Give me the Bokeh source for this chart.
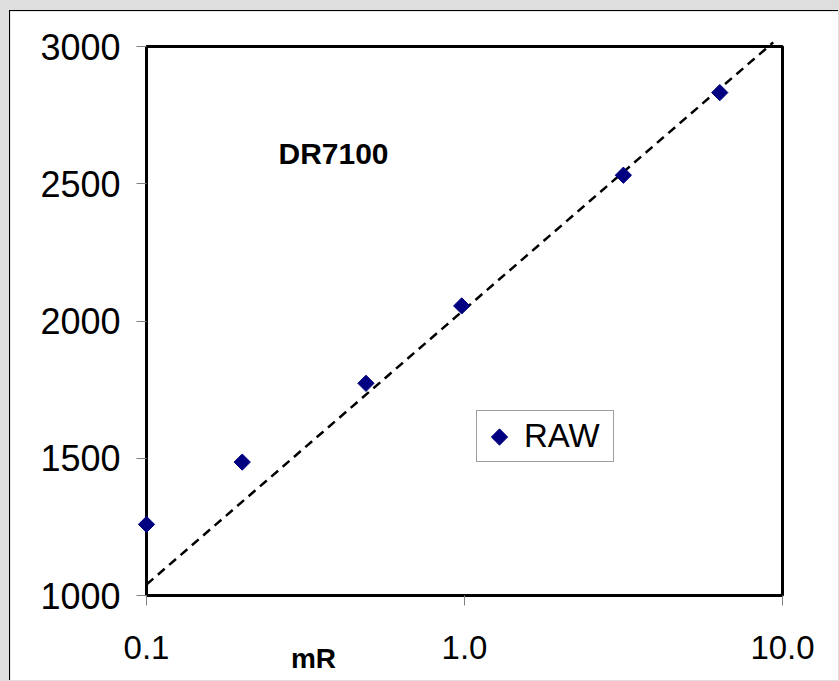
from bokeh.plotting import figure
from bokeh.models import (FixedTicker, PrintfTickFormatter, Range1d, Label,
                          Legend, LegendItem, ColumnDataSource, LogAxis)
from bokeh.embed import file_html
from bokeh.resources import INLINE
import math

# ---- data ----
dose_mR = [0.1, 0.2, 0.49, 0.98, 3.16, 6.35]
raw_value = [1259, 1486, 1773, 2055, 2531, 2832]
trend_x = [0.1, 9.35]
trend_y = [1040, 3015]
x_ticks = [0.1, 1.0, 10.0]
y_ticks = [1000, 1500, 2000, 2500, 3000]
series_name = "RAW"
chart_title = "DR7100"
x_title = "mR"

FONT = "Liberation Sans"
NAVY = "#000080"

# layout constants (pixels)
FRAME_W, FRAME_H = 636, 549
X_MIN, X_MAX, Y_MIN, Y_MAX = 0.1, 10.0, 1000, 3000
LX0, LX1 = math.log10(X_MIN), math.log10(X_MAX)


def px_to_x(px):
    return 10 ** (LX0 + px / FRAME_W * (LX1 - LX0))


def px_to_y(py):
    return Y_MIN + py / FRAME_H * (Y_MAX - Y_MIN)


p = figure(width=829, height=670, x_axis_type="log",
           x_range=Range1d(X_MIN, X_MAX), y_range=Range1d(Y_MIN, Y_MAX),
           output_backend="svg", toolbar_location=None,
           min_border_left=136, min_border_right=57,
           min_border_top=35, min_border_bottom=86,
           background_fill_color="white", border_fill_color="white",
           outline_line_color="black", outline_line_width=3,
           styles={"border-left": "1px solid black",
                   "border-top": "1px solid black",
                   "margin-left": "9px", "margin-top": "10px"})

p.grid.visible = False

for ax in (p.xaxis[0], p.yaxis[0]):
    ax.axis_line_color = None
    ax.major_tick_line_color = "#808080"
    ax.major_tick_line_width = 1
    ax.major_tick_out = 10
    ax.major_tick_in = 0
    ax.minor_tick_line_color = None
    ax.major_label_text_font = FONT
    ax.major_label_text_color = "black"

p.xaxis[0].ticker = FixedTicker(ticks=x_ticks)
p.xaxis[0].formatter = PrintfTickFormatter(format="%.1f")
p.xaxis[0].major_label_text_font_size = "33px"
p.xaxis[0].major_label_standoff = 30

p.yaxis[0].ticker = FixedTicker(ticks=y_ticks)
p.yaxis[0].major_label_text_font_size = "36px"
p.yaxis[0].major_label_standoff = 16

# axis title "mR": a second, label-only axis stacked under the numeric one
title_axis = LogAxis(ticker=FixedTicker(ticks=[px_to_x(167)]),
                     formatter=PrintfTickFormatter(format=x_title))
title_axis.axis_line_color = None
title_axis.major_tick_line_color = None
title_axis.minor_tick_line_color = None
title_axis.major_tick_out = 0
title_axis.major_tick_in = 0
title_axis.major_label_standoff = -19
title_axis.major_label_text_font = FONT
title_axis.major_label_text_font_style = "bold"
title_axis.major_label_text_font_size = "28px"
title_axis.major_label_text_color = "black"
p.add_layout(title_axis, "below")

# trend line
p.line(trend_x, trend_y, line_color="black", line_width=2.5, line_dash="9 6",
       level="overlay")

# data points (diamonds = squares rotated 45 degrees)
src = ColumnDataSource(data=dict(x=dose_mR, y=raw_value))
r = p.scatter("x", "y", source=src, marker="square", size=11.5,
              angle=math.pi / 4, fill_color=NAVY, line_color=NAVY,
              level="overlay")

# legend: box + label from Bokeh, key drawn as rotated square on top
LEG_X, LEG_Y = 330, 133           # from frame bottom-left, px
dummy = p.scatter(x=[], y=[], marker="square", fill_alpha=0, line_alpha=0)
legend = Legend(items=[LegendItem(label=series_name, renderers=[dummy])],
                location=(LEG_X, LEG_Y), margin=0, padding=6,
                glyph_width=34, glyph_height=30, label_standoff=7,
                label_width=83,
                label_text_font=FONT, label_text_font_size="33px",
                label_text_color="black",
                border_line_color="#404040", border_line_width=1,
                background_fill_alpha=0, spacing=0)
p.add_layout(legend)

p.scatter([px_to_x(LEG_X + 23)], [px_to_y(LEG_Y + 25.5)], marker="square",
          size=11.5, angle=math.pi / 4, fill_color=NAVY, line_color=NAVY,
          level="overlay")

p.add_layout(Label(x=0.26, y=2609, text=chart_title, text_font=FONT,
                   text_font_style="bold", text_font_size="30px",
                   text_color="black",
                   text_baseline="middle", text_align="left"))

html = file_html(p, INLINE)
html = html.replace(
    "</head>",
    "<style>html,body{margin:0;padding:0;background:#dedede;overflow:hidden;}</style></head>", 1)
open("out.html", "w").write(html)
